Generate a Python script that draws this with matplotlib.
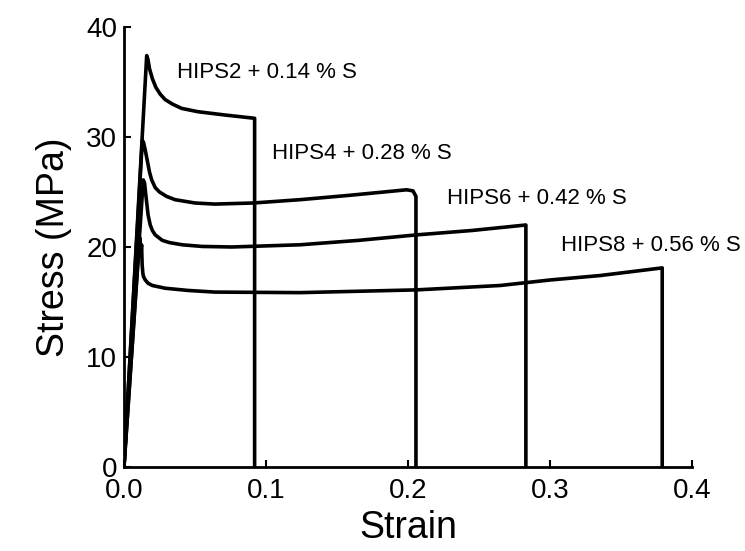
import matplotlib
matplotlib.use("Agg")
import matplotlib.pyplot as plt

plt.rcParams["font.family"] = ["Liberation Sans", "DejaVu Sans"]

# 应力-应变曲线
hips2_strain = [0, 0.016, 0.0168, 0.018, 0.020, 0.0225, 0.0255, 0.029, 0.034,
                0.0406, 0.052, 0.071, 0.092, 0.092]
hips2_stress = [0, 37.4, 37.1, 36.2, 35.3, 34.5, 33.9, 33.4, 33.0,
                32.6, 32.3, 32.0, 31.7, 0]

hips4_strain = [0, 0.0129, 0.0138, 0.015, 0.0165, 0.018, 0.0195, 0.022, 0.025,
                0.030, 0.036, 0.05, 0.064, 0.091, 0.124, 0.159, 0.199, 0.2035,
                0.2056, 0.2056]
hips4_stress = [0, 29.7, 29.5, 28.8, 27.8, 26.8, 26.1, 25.4, 25.0,
                24.6, 24.3, 24.0, 23.9, 24.0, 24.3, 24.7, 25.2, 25.1,
                24.6, 0]

hips6_strain = [0, 0.0136, 0.0145, 0.0155, 0.017, 0.0185, 0.020, 0.022, 0.024,
                0.027, 0.032, 0.041, 0.055, 0.076, 0.124, 0.165, 0.206, 0.245,
                0.283, 0.283]
hips6_stress = [0, 26.1, 25.8, 24.6, 22.9, 22.0, 21.5, 21.1, 20.9,
                20.6, 20.4, 20.2, 20.05, 20.0, 20.2, 20.6, 21.1, 21.5,
                22.0, 0]

hips8_strain = [0, 0.0108, 0.0113, 0.0118, 0.0124, 0.0128, 0.0133, 0.0138, 0.015,
                0.017, 0.020, 0.029, 0.045, 0.064, 0.124, 0.206, 0.265, 0.30,
                0.335, 0.379, 0.379]
hips8_stress = [0, 20.4, 20.8, 19.2, 20.2, 18.4, 17.6, 17.3, 17.0,
                16.7, 16.5, 16.25, 16.05, 15.9, 15.85, 16.1, 16.5, 17.0,
                17.4, 18.1, 0]

labels = ["HIPS2 + 0.14 % S", "HIPS4 + 0.28 % S", "HIPS6 + 0.42 % S", "HIPS8 + 0.56 % S"]
label_pos = [(0.0373, 35.9), (0.104, 28.5), (0.2275, 24.4), (0.308, 20.1)]

x_ticks = [0.0, 0.1, 0.2, 0.3, 0.4]
x_ticklabels = ["0.0", "0.1", "0.2", "0.3", "0.4"]
y_ticks = [0, 10, 20, 30, 40]

fig = plt.figure(figsize=(7.45, 5.51), dpi=100)
ax = fig.add_axes([0.1664, 0.1525, 0.7625, 0.7985])

curves = [
    (hips2_strain, hips2_stress),
    (hips4_strain, hips4_stress),
    (hips6_strain, hips6_stress),
    (hips8_strain, hips8_stress),
]
for strain, stress in curves:
    ax.plot(strain, stress, color="black", linewidth=2.6,
            solid_joinstyle="round", solid_capstyle="butt")

for text, (x, y) in zip(labels, label_pos):
    ax.text(x, y, text, fontsize=16, ha="left", va="center")

ax.set_xlim(0, 0.4)
ax.set_ylim(0, 40)
ax.set_xticks(x_ticks)
ax.set_xticklabels(x_ticklabels)
ax.set_yticks(y_ticks)

for side in ["top", "right"]:
    ax.spines[side].set_visible(False)
for side in ["left", "bottom"]:
    ax.spines[side].set_linewidth(2.0)

ax.tick_params(axis="both", direction="in", length=5, width=1.5, labelsize=20)
ax.tick_params(axis="x", pad=8)
ax.tick_params(axis="y", pad=5)

ax.set_xlabel("Strain", fontsize=27, labelpad=4)
ax.set_ylabel("Stress (MPa)", fontsize=27, labelpad=10)

fig.savefig("out.png", dpi=100)
plt.close(fig)
